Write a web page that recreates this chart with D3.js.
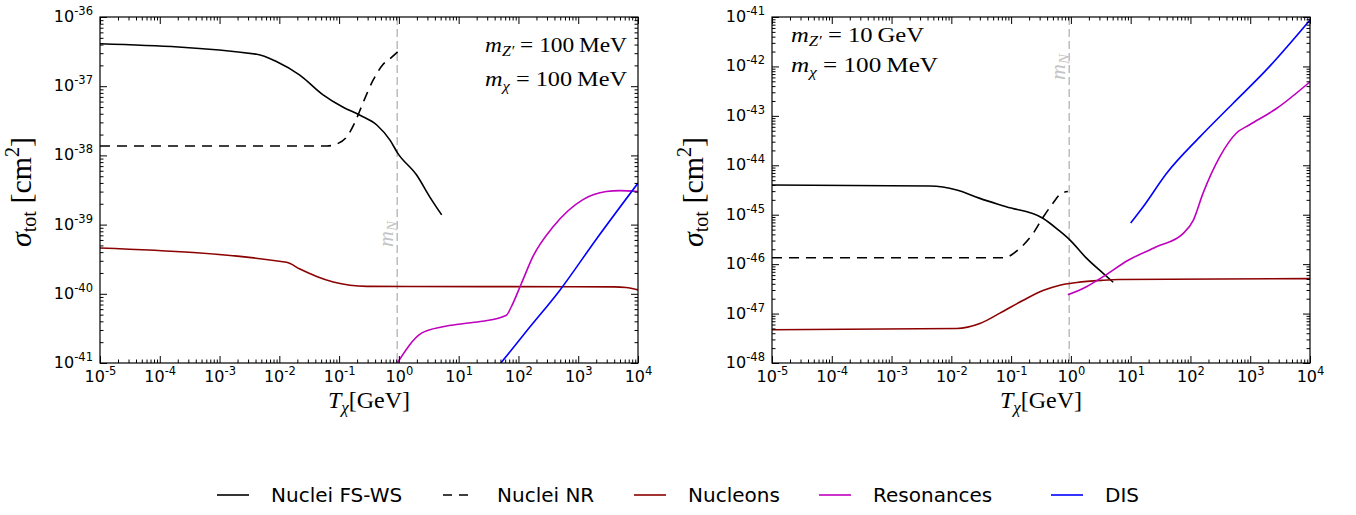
<!DOCTYPE html>
<html><head><meta charset="utf-8">
<script src="https://cdn.jsdelivr.net/npm/d3@7"></script>
<style>body{margin:0;background:#fff} svg{display:block}</style>
</head><body><svg id="c" width="1356" height="515"></svg>
<script>
// ---------------- DATA ----------------
const xTickExps = [-5,-4,-3,-2,-1,0,1,2,3,4];
const leftYTickExps = [-36,-37,-38,-39,-40,-41];
const rightYTickExps = [-41,-42,-43,-44,-45,-46,-47,-48];
const mN = 0.938; // GeV
const legendLabels = ["Nuclei FS-WS","Nuclei NR","Nucleons","Resonances","DIS"];

// Left panel: m_Z' = 100 MeV, m_chi = 100 MeV   [T (GeV), sigma (cm^2)]
const leftFSWS = [[1e-5,4.1e-37],[4.2e-3,2.9e-37],[9.1e-3,2.26e-37],[2.2e-2,1.45e-37],[5.4e-2,7.5e-38],
  [0.115,5.0e-38],[0.224,3.8e-38],[0.427,2.75e-38],[0.71,1.66e-38],[0.96,1.07e-38],[1.98,5.2e-39],[3.3,2.5e-39],[5.2,1.38e-39]];
const leftNR = [[1e-5,1.37e-38],[0.063,1.37e-38],[0.091,1.46e-38],[0.135,1.86e-38],[0.182,2.95e-38],
  [0.251,5.75e-38],[0.372,1.23e-37],[0.537,2.04e-37],[0.76,2.63e-37],[0.96,3.16e-37]];
const leftNucleons = [[1e-5,4.6e-40],[0.0132,2.85e-40],[0.0221,2.28e-40],[0.0421,1.78e-40],[0.0798,1.48e-40],
  [0.152,1.33e-40],[0.288,1.28e-40],[4000,1.26e-40],[6300,1.23e-40],[1e4,1.14e-40]];
const leftResonances = [[0.94,1.0e-41],[2.39,2.7e-41],[5.4,3.34e-41],[11.7,3.7e-41],[25,4.0e-41],[63,4.9e-41],
  [76,6.5e-41],[112,1.41e-40],[176,3.5e-40],[380,9.3e-40],[1200,2.3e-39],[2950,3.0e-39],[5000,3.1e-39],[1e4,3.0e-39]];
const leftDIS = [[50.8,1e-41],[155,3.3e-41],[490,1.12e-40],[2020,6.2e-40],[1e4,3.98e-39]];

// Right panel: m_Z' = 10 GeV, m_chi = 100 MeV
const rightFSWS = [[1e-5,3.98e-45],[4.4e-3,3.8e-45],[0.0123,3.16e-45],[0.030,2.14e-45],[0.083,1.45e-45],
  [0.34,8.5e-46],[0.62,4.9e-46],[0.96,3.1e-46],[1.82,1.32e-46],[3.47,6.5e-47],[5.1,4.3e-47]];
const rightNR = [[1e-5,1.35e-46],[0.074,1.35e-46],[0.141,2.1e-46],[0.234,4.2e-46],[0.347,9.1e-46],
  [0.5,1.7e-45],[0.69,2.7e-45],[0.89,2.95e-45]];
const rightNucleons = [[1e-5,4.7e-48],[0.0123,5.0e-48],[0.030,6.3e-48],[0.065,1.02e-47],[0.16,1.86e-47],
  [0.35,2.95e-47],[0.63,3.7e-47],[1.26,4.25e-47],[3.2,4.7e-47],[6.3,4.9e-47],[1e4,5.1e-47]];
const rightResonances = [[0.89,2.4e-47],[1.82,3.5e-47],[3.47,5.6e-47],[9.1,1.2e-46],[27,2.24e-46],[76,4.2e-46],
  [112,7.8e-46],[162,2.7e-45],[309,1.48e-44],[589,4.5e-44],[977,6.6e-44],[2750,1.41e-43],[1e4,4.9e-43]];
const rightDIS = [[10,6.8e-46],[16.2,1.45e-45],[40,6.9e-45],[145,3.8e-44],[513,1.78e-43],[1860,8.5e-43],[1e4,8.7e-42]];

// ---------------- STYLE / LAYOUT ----------------
const styles = [
  {stroke:"#000000", dash:null},
  {stroke:"#000000", dash:"10,7"},
  {stroke:"#8b0000", dash:null},
  {stroke:"#bf00bf", dash:null},
  {stroke:"#0000ff", dash:null}
];
const panels = [
  {left:100,right:638,top:17,bottom:363, yExps:leftYTickExps,
   series:[leftFSWS,leftNR,leftNucleons,leftResonances,leftDIS],
   ann:{x:485,y1:52,y2:86,w1:142,w2:142, z:"100", zu:"MeV"}, mNy:234},
  {left:772,right:1310,top:17,bottom:363, yExps:rightYTickExps,
   series:[rightFSWS,rightNR,rightNucleons,rightResonances,rightDIS],
   ann:{x:791,y1:42,y2:72,w1:133,w2:147, z:"10", zu:"GeV"}, mNy:67}
];

const svg = d3.select("#c");
const serif = "'Liberation Serif','DejaVu Serif',serif";
const sans = "'DejaVu Sans',sans-serif";

function expText(t, e){
  t.append("tspan").attr("font-size",16).text("10");
  t.append("tspan").attr("font-size",11.5).attr("dy",-7).text(e);
}

panels.forEach((p,pi)=>{
  const g = svg.append("g");
  const x = d3.scaleLog().domain([Math.pow(10,xTickExps[0]),Math.pow(10,xTickExps[xTickExps.length-1])]).range([p.left,p.right]);
  const yMin = Math.pow(10,d3.min(p.yExps)), yMax = Math.pow(10,d3.max(p.yExps));
  const y = d3.scaleLog().domain([yMin,yMax]).range([p.bottom,p.top]);

  const xMaj = xTickExps.map(e=>Math.pow(10,e));
  const xMin = [];
  for(let e=xTickExps[0]; e<xTickExps[xTickExps.length-1]; e++) for(let m=2;m<=9;m++) xMin.push(m*Math.pow(10,e));
  const yExpsSorted = p.yExps.slice().sort((a,b)=>a-b);
  const yMaj = yExpsSorted.map(e=>Math.pow(10,e));
  const yMinT = [];
  for(let e=yExpsSorted[0]; e<yExpsSorted[yExpsSorted.length-1]; e++) for(let m=2;m<=9;m++) yMinT.push(m*Math.pow(10,e));

  const clipId = "clip"+pi;
  g.append("clipPath").attr("id",clipId).append("rect")
    .attr("x",p.left).attr("y",p.top).attr("width",p.right-p.left).attr("height",p.bottom-p.top);

  // mN line
  g.append("line").attr("x1",x(mN)).attr("x2",x(mN)).attr("y1",p.top).attr("y2",p.bottom)
    .attr("stroke","#bdbdbd").attr("stroke-width",1.5).attr("stroke-dasharray","8,4");
  const ml = g.append("text").attr("transform",`translate(${x(mN)-4},${p.mNy}) rotate(-90)`)
    .attr("text-anchor","middle").attr("fill","#c4c4c4").attr("font-family",serif);
  ml.append("tspan").attr("font-style","italic").attr("font-size",22).text("m");
  ml.append("tspan").attr("font-style","italic").attr("font-size",15).attr("dy",4).text("N");

  // series
  const line = d3.line().x(d=>x(d[0])).y(d=>y(d[1])).curve(d3.curveMonotoneX);
  const sg = g.append("g").attr("clip-path",`url(#${clipId})`);
  p.series.forEach((s,i)=>{
    sg.append("path").attr("d",line(s)).attr("fill","none")
      .attr("stroke",styles[i].stroke).attr("stroke-width",1.6)
      .attr("stroke-dasharray",styles[i].dash);
  });

  // axes (ticks inside)
  const strip = a=>a.call(s=>s.select(".domain").remove());
  const mk = (axisFn, scale, vals, len)=> axisFn(scale).tickValues(vals).tickSizeInner(-len).tickSizeOuter(0).tickFormat(()=>"");
  const bottomAx = g.append("g").attr("transform",`translate(0,${p.bottom})`).call(mk(d3.axisBottom,x,xMaj,7));
  g.append("g").attr("transform",`translate(0,${p.bottom})`).call(mk(d3.axisBottom,x,xMin,3.5)).call(strip);
  g.append("g").attr("transform",`translate(0,${p.top})`).call(mk(d3.axisTop,x,xMaj,7)).call(strip);
  g.append("g").attr("transform",`translate(0,${p.top})`).call(mk(d3.axisTop,x,xMin,3.5)).call(strip);
  const leftAx = g.append("g").attr("transform",`translate(${p.left},0)`).call(mk(d3.axisLeft,y,yMaj,7));
  g.append("g").attr("transform",`translate(${p.left},0)`).call(mk(d3.axisLeft,y,yMinT,3.5)).call(strip);
  g.append("g").attr("transform",`translate(${p.right},0)`).call(mk(d3.axisRight,y,yMaj,7)).call(strip);
  g.append("g").attr("transform",`translate(${p.right},0)`).call(mk(d3.axisRight,y,yMinT,3.5)).call(strip);
  strip(bottomAx); strip(leftAx);
  g.selectAll(".tick line").attr("stroke","#000").attr("stroke-width",1);

  // tick labels
  bottomAx.selectAll(".tick text").each(function(d){
    const t = d3.select(this).text("").attr("y",19).attr("dy",null).attr("fill","#000")
      .attr("font-family",sans).attr("text-anchor","middle");
    expText(t, Math.round(Math.log10(d)));
  });
  leftAx.selectAll(".tick text").each(function(d){
    const t = d3.select(this).text("").attr("x",-7).attr("dy",null).attr("y",4.5).attr("fill","#000")
      .attr("font-family",sans).attr("text-anchor","end");
    expText(t, Math.round(Math.log10(d)));
  });

  // frame
  g.append("rect").attr("x",p.left).attr("y",p.top).attr("width",p.right-p.left).attr("height",p.bottom-p.top)
    .attr("fill","none").attr("stroke","#000").attr("stroke-width",1.2);

  // axis labels
  const cx = (p.left+p.right)/2;
  const xl = g.append("text").attr("x",cx).attr("y",408).attr("text-anchor","middle").attr("font-family",serif).attr("font-size",24);
  xl.append("tspan").attr("font-style","italic").text("T");
  xl.append("tspan").attr("font-style","italic").attr("font-size",17).attr("dy",5).text("χ");
  xl.append("tspan").attr("dy",-5).text("[GeV]");

  const yl = g.append("text").attr("transform",`translate(${p.left-69},192) rotate(-90)`)
    .attr("text-anchor","middle").attr("font-family",serif).attr("font-size",30);
  yl.append("tspan").attr("font-style","italic").text("σ");
  yl.append("tspan").attr("font-size",20).attr("dy",5).text("tot");
  yl.append("tspan").attr("dy",-5).text(" [cm");
  yl.append("tspan").attr("font-size",20).attr("dy",-12).text("2");
  yl.append("tspan").attr("dy",12).text("]");

  // annotation
  const a = p.ann;
  const t1 = g.append("text").attr("x",a.x).attr("y",a.y1).attr("font-family",serif).attr("font-size",22)
    .attr("textLength",a.w1).attr("lengthAdjust","spacingAndGlyphs");
  t1.append("tspan").attr("font-style","italic").text("m");
  t1.append("tspan").attr("font-style","italic").attr("font-size",15).attr("dy",4).text("Z′");
  t1.append("tspan").attr("dy",-4).text(` = ${a.z}\u2009${a.zu}`);
  const t2 = g.append("text").attr("x",a.x).attr("y",a.y2).attr("font-family",serif).attr("font-size",22)
    .attr("textLength",a.w2).attr("lengthAdjust","spacingAndGlyphs");
  t2.append("tspan").attr("font-style","italic").text("m");
  t2.append("tspan").attr("font-style","italic").attr("font-size",15).attr("dy",5).text("χ");
  t2.append("tspan").attr("dy",-5).text(" = 100\u2009MeV");
});

// legend
const legendTextX = [271,497,688,873,1105];
const lg = svg.append("g");
legendLabels.forEach((lab,i)=>{
  const tx = legendTextX[i];
  lg.append("line").attr("x1",tx-54).attr("x2",tx-22).attr("y1",495).attr("y2",495)
    .attr("stroke",styles[i].stroke).attr("stroke-width",1.6).attr("stroke-dasharray",styles[i].dash ? "9,7" : null);
  lg.append("text").attr("x",tx).attr("y",502).attr("font-family",sans).attr("font-size",20).text(lab);
});
</script></body></html>
